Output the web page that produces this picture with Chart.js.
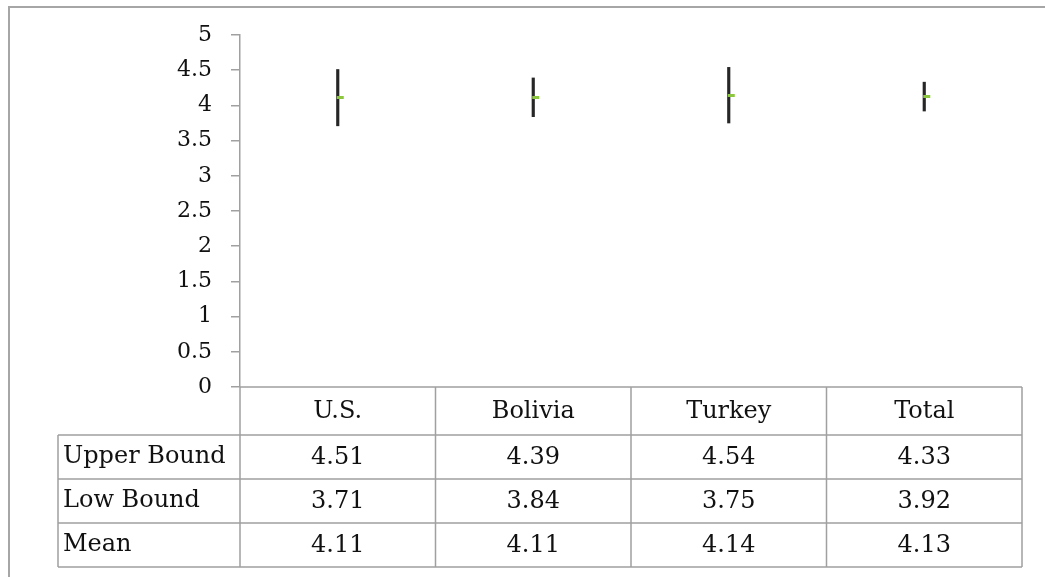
<!DOCTYPE html>
<html>
<head>
<title>Confidence intervals</title>
<script src="https://cdn.jsdelivr.net/npm/chart.js@4.4.1/dist/chart.umd.min.js"></script>
<style>
body { margin:0; background:#fff; }
#wrap { position:relative; width:1045px; height:577px; overflow:hidden; }
#frame { position:absolute; left:8px; top:6px; width:1100px; height:620px; border:2px solid #a6a6a6; }
#box { position:absolute; left:0; top:0; width:1045px; height:577px; }
</style>
</head>
<body>
<div id="wrap">
  <div id="frame"></div>
  <div id="box"><canvas id="myChart"></canvas></div>
</div>

<script>
var categories = ['U.S.', 'Bolivia', 'Turkey', 'Total'];
var upperBound = [4.51, 4.39, 4.54, 4.33];
var lowBound   = [3.71, 3.84, 3.75, 3.92];
var meanValue  = [4.11, 4.11, 4.14, 4.13];
var rowNames   = ['Upper Bound', 'Low Bound', 'Mean'];
var rowValues  = [upperBound, lowBound, meanValue];

var FONT = '"DejaVu Serif", serif';
var gridColor = '#a0a0a0';

// small green dash sitting to the right of the line (close marker)
var dash = document.createElement('canvas');
dash.width = 14; dash.height = 3;
var dctx = dash.getContext('2d');
dctx.fillStyle = '#8dc63f';
dctx.fillRect(6, 0, 7, 3);

// data table under the plot, drawn from the arrays above
var tablePlugin = {
  id: 'dataTable',
  afterDraw: function(chart) {
    var ctx = chart.ctx, xs = chart.scales.x, area = chart.chartArea;
    var n = categories.length;
    var colW = (xs.right - xs.left) / n;
    var headH = 48, rowH = 44, labelLeft = 58;
    var top = area.bottom;
    var rowTop = top + headH;
    var bottom = rowTop + rowH * rowNames.length;
    ctx.save();
    ctx.strokeStyle = gridColor;
    ctx.lineWidth = 1.5;
    ctx.beginPath();
    // vertical lines
    for (var i = 0; i <= n; i++) {
      var x = xs.left + colW * i;
      ctx.moveTo(x, top); ctx.lineTo(x, bottom);
    }
    ctx.moveTo(labelLeft, rowTop); ctx.lineTo(labelLeft, bottom);
    // horizontal lines
    ctx.moveTo(xs.left, top); ctx.lineTo(xs.right, top);
    for (var r = 0; r <= rowNames.length; r++) {
      var y = rowTop + rowH * r;
      ctx.moveTo(labelLeft, y); ctx.lineTo(xs.right, y);
    }
    ctx.stroke();

    ctx.fillStyle = '#111';
    ctx.font = '24px ' + FONT;
    ctx.textBaseline = 'middle';
    ctx.textAlign = 'center';
    for (var c = 0; c < n; c++) {
      var cx = xs.getPixelForValue(c);
      ctx.fillText(categories[c], cx, top + headH / 2 + 1);
      for (var r2 = 0; r2 < rowNames.length; r2++) {
        ctx.fillText(rowValues[r2][c].toFixed(2), cx, rowTop + rowH * r2 + rowH / 2 + 1);
      }
    }
    ctx.textAlign = 'left';
    for (var r3 = 0; r3 < rowNames.length; r3++) {
      ctx.fillText(rowNames[r3], labelLeft + 5, rowTop + rowH * r3 + rowH / 2);
    }
    ctx.restore();
  }
};

var ctx = document.getElementById('myChart').getContext('2d');
var chart = new Chart(ctx, {
  type: 'bar',
  data: {
    labels: categories,
    datasets: [
      {
        type: 'line',
        label: 'Mean',
        data: meanValue,
        showLine: false,
        pointStyle: dash,
        pointRadius: 4,
        order: 0
      },
      {
        label: 'Range',
        data: lowBound.map(function(v, i) { return [v, upperBound[i]]; }),
        backgroundColor: '#262626',
        barThickness: 2.5,
        order: 1
      }
    ]
  },
  plugins: [tablePlugin],
  options: {
    responsive: true,
    maintainAspectRatio: false,
    animation: false,
    layout: { padding: { top: 35, right: 23, bottom: 11, left: 0 } },
    plugins: { legend: { display: false }, tooltip: { enabled: false } },
    scales: {
      x: {
        ticks: { display: false },
        grid: { display: false },
        border: { display: false },
        afterFit: function(s) { s.height = 179; }
      },
      y: {
        min: 0, max: 5,
        ticks: {
          stepSize: 0.5, padding: 19, color: '#111',
          font: { family: FONT, size: 22 },
          callback: function(v) { return String(v); }
        },
        grid: { drawOnChartArea: false, drawTicks: true, tickLength: 9, color: gridColor, lineWidth: 1.5 },
        border: { display: true, color: gridColor, width: 1.5 },
        afterFit: function(s) { s.width = 240; }
      }
    }
  }
});
</script>
</body>
</html>
